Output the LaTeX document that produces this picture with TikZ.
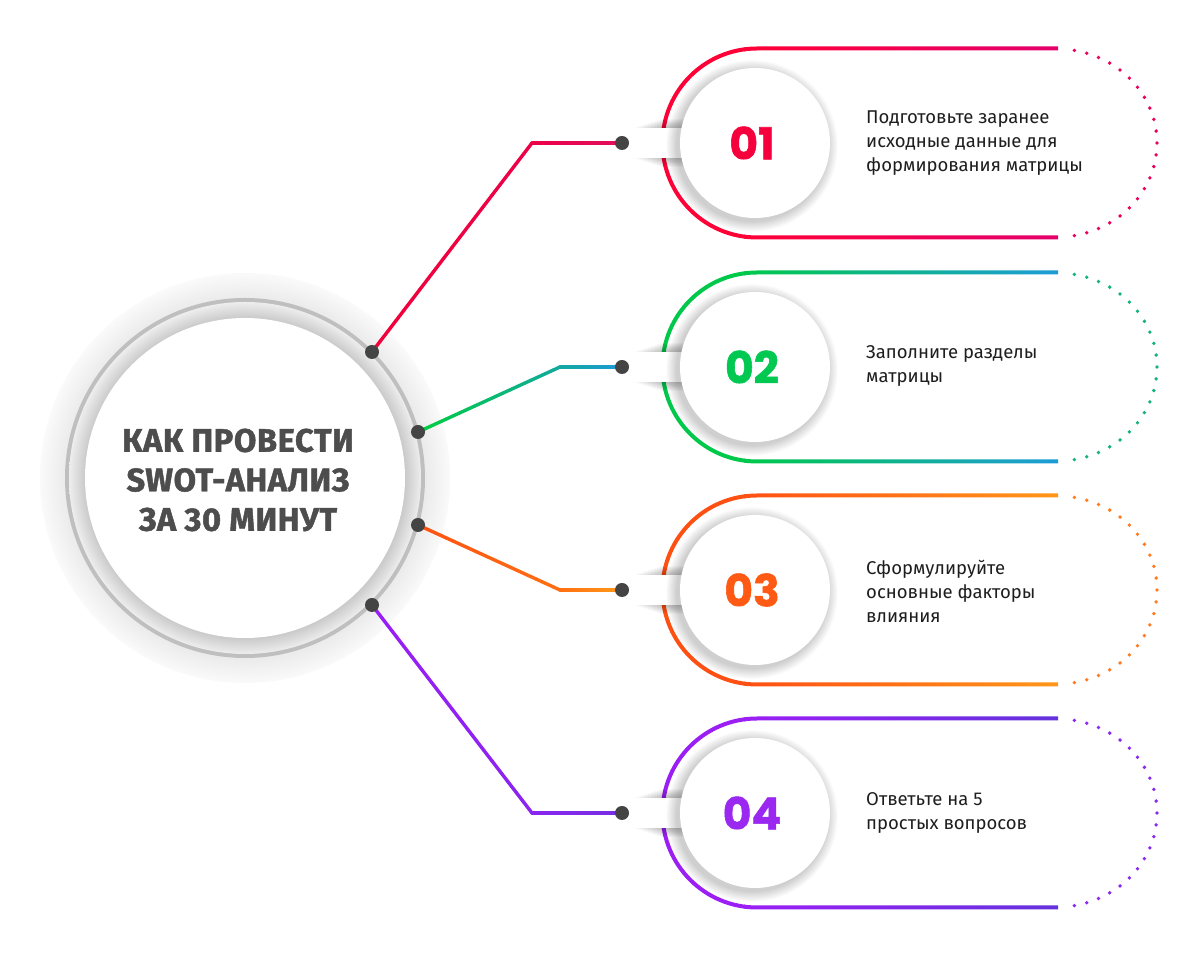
\documentclass[tikz,border=0pt]{standalone}
\usepackage{fontspec}
\setmainfont{Fira Sans}
\newfontfamily\numfont{Poppins}[BoldFeatures={FakeBold=1.2}]
\newfontfamily\titlefont{Fira Sans}[BoldFeatures={FakeBold=1.5}, LetterSpace=2]
\usetikzlibrary{calc}
\definecolor{titlec}{HTML}{4D4D4D}
\definecolor{bodyc}{HTML}{1E1E1E}
\definecolor{dotc}{HTML}{444444}
% item 1
\definecolor{ra}{HTML}{FF0037}\definecolor{rb}{HTML}{E4006C}\definecolor{rd}{HTML}{E8005A}
\definecolor{rl1}{HTML}{F2003A}\definecolor{rl2}{HTML}{EC0048}\definecolor{rl3}{HTML}{E0105E}
% item 2
\definecolor{ga}{HTML}{00C84B}\definecolor{gb}{HTML}{1E9BD7}\definecolor{gd}{HTML}{14B27E}
\definecolor{gl1}{HTML}{00CC40}\definecolor{gl2}{HTML}{12A9A0}\definecolor{gl3}{HTML}{1E9AD8}
% item 3
\definecolor{oa}{HTML}{FF5014}\definecolor{ob}{HTML}{FF9619}\definecolor{od}{HTML}{FF7A20}
\definecolor{ol1}{HTML}{FF5212}\definecolor{ol2}{HTML}{FF7012}\definecolor{ol3}{HTML}{FF9A1A}
% item 4
\definecolor{pa}{HTML}{9B1EF5}\definecolor{pb}{HTML}{6432DC}\definecolor{pd}{HTML}{8A28F0}
\definecolor{pl1}{HTML}{9A1EF5}\definecolor{pl2}{HTML}{8A24F0}\definecolor{pl3}{HTML}{7530E0}
\definecolor{n1}{HTML}{F5003C}\definecolor{n2}{HTML}{00C850}\definecolor{n3}{HTML}{FF5A14}\definecolor{n4}{HTML}{9B28F0}

\pgfdeclareradialshading{haloshade}{\pgfpoint{0bp}{0bp}}{color(0bp)=(black!8); color(21.9bp)=(black!8); color(25bp)=(black!2); color(50bp)=(white)}
\pgfdeclareradialshading{ringshade}{\pgfpoint{0bp}{0bp}}{color(0bp)=(black!21); color(22.7bp)=(black!21); color(25bp)=(black!7); color(50bp)=(black!7)}

\newcommand\gradseg[4]{% from, to, colA, colB
  \foreach \k in {0,...,19} {
    \pgfmathsetmacro\pa{\k/20}\pgfmathsetmacro\pb{(\k+1)/20}\pgfmathtruncatemacro\pc{100-\k*5}
    \draw[conn, color=#3!\pc!#4] ($(#1)!\pa!(#2)$) -- ($(#1)!\pb!(#2)$);
  }}

\newcommand\itemblock[7]{% name, cy, colA, colB, dotcol, numcol, number
  % racetrack stroke with gradient
  \begin{scope}[even odd rule]
    \clip (1080,#2+96.5) -- (757,#2+96.5) arc[start angle=90,end angle=270,radius=96.5] -- (1080,#2-96.5) -- cycle
      (1080,#2+92.5) -- (757,#2+92.5) arc[start angle=90,end angle=270,radius=92.5] -- (1080,#2-92.5) -- cycle;
    \fill[#3] (650,#2-100) rectangle (745,#2+100);
    \shade[left color=#3,right color=#4] (744,#2-100) rectangle (1058,#2+100);
  \end{scope}
  % dotted half
  \foreach \i in {0,...,22}
    \fill[#5] ({1057+100*cos(80-\i*160/22)},{#2+94*sin(80-\i*160/22)}) circle (1.9);
  % tab with shadow
  \foreach \i in {1,...,9}
    \fill[black,opacity=0.028] (633+3*\i,#2-15-\i) rectangle (720,#2+15+\i);
  \fill[white] (630,#2-15) rectangle (720,#2+15);
  % number circle with shadow
  \foreach \i in {1,...,12}
    \fill[black,opacity=0.016] (752,#2-3) circle ({75+\i*0.9});
  \node[numcircle] (#1-circle) at (755,#2) {};
  \node[numtext, text=#6] (#1-num) at (752,#2) {#7};
}

\begin{document}
\begin{tikzpicture}[x=1pt,y=1pt,
  conn/.style={line width=3.4pt, line cap=round},
  dotn/.style={circle, fill=dotc, inner sep=0pt, minimum size=14pt},
  numcircle/.style={circle, fill=white, inner sep=0pt, minimum size=150pt},
  numtext/.style={font=\numfont\bfseries\fontsize{44}{44}\selectfont, inner sep=0pt},
  bodytext/.style={font=\fontsize{18.5}{24}\selectfont, text=bodyc, align=left, anchor=west, inner sep=0pt},
  titletext/.style={font=\titlefont\bfseries\fontsize{32.5}{39.5}\selectfont, text=titlec, align=center, inner sep=0pt}]
\useasboundingbox (0,0) rectangle (1200,958);
\fill[white] (0,0) rectangle (1200,958);

% ---- items ----
\itemblock{s1}{815}{ra}{rb}{rd}{n1}{01}
\itemblock{s2}{591}{ga}{gb}{gd}{n2}{02}
\itemblock{s3}{368}{oa}{ob}{od}{n3}{03}
\itemblock{s4}{145}{pa}{pb}{pd}{n4}{04}

\node[bodytext] (t1) at (866,815) {Подготовьте заранее\\исходные данные для\\формирования матрицы};
\node[bodytext] (t2) at (866,592) {Заполните разделы\\матрицы};
\node[bodytext] (t3) at (866,367) {Сформулируйте\\основные факторы\\влияния};
\node[bodytext] (t4) at (866,145) {Ответьте на 5\\простых вопросов};

% ---- central circle ----
\coordinate (c) at (245,480);
\shade[shading=haloshade] (c) circle (205);
\fill[black!25] (c) circle (180);
\shade[shading=ringshade] (c) circle (176);
\node[circle, fill=white, inner sep=0pt, minimum size=320pt] (center) at (c) {};
\node[titletext] (title) at (238,478) {КАК ПРОВЕСТИ\\SWOT-АНАЛИЗ\\ЗА 30 МИНУТ};

% ---- connectors ----
\coordinate (d1) at (372,606); \coordinate (b1) at (532,815); \coordinate (e1) at (622,815);
\coordinate (d2) at (418,526); \coordinate (b2) at (560,591); \coordinate (e2) at (622,591);
\coordinate (d3) at (418,433); \coordinate (b3) at (560,368); \coordinate (e3) at (622,368);
\coordinate (d4) at (372,353); \coordinate (b4) at (532,145); \coordinate (e4) at (622,145);

\gradseg{d1}{b1}{rl1}{rl2}\gradseg{b1}{e1}{rl2}{rl3}
\gradseg{d2}{b2}{gl1}{gl2}\gradseg{b2}{e2}{gl2}{gl3}
\gradseg{d3}{b3}{ol1}{ol2}\gradseg{b3}{e3}{ol2}{ol3}
\gradseg{d4}{b4}{pl1}{pl2}\gradseg{b4}{e4}{pl2}{pl3}

\foreach \n in {d1,d2,d3,d4,e1,e2,e3,e4}
  \node[dotn] (dot-\n) at (\n) {};
\end{tikzpicture}
\end{document}
